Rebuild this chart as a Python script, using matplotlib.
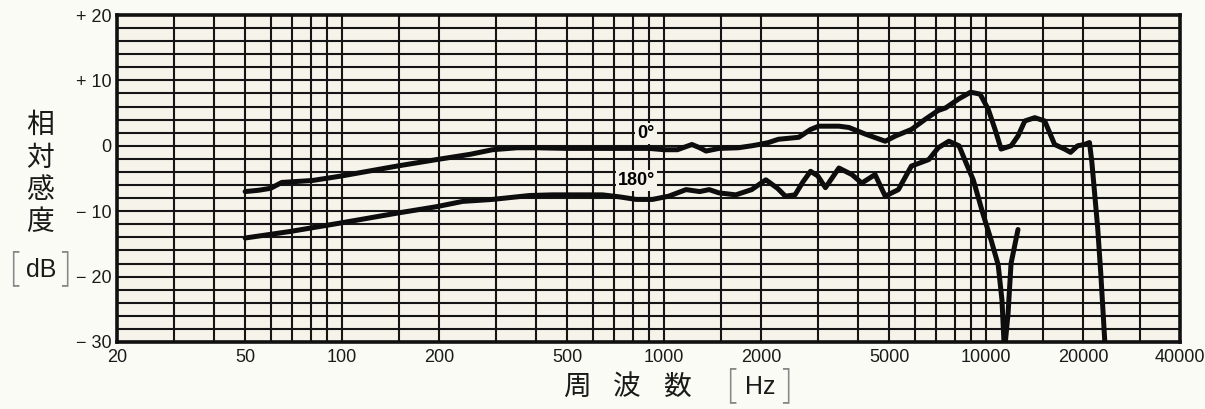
import matplotlib
matplotlib.use("Agg")
import matplotlib.pyplot as plt
from matplotlib.ticker import FixedLocator, NullFormatter

# ---------------- data ----------------
freq_0 = [50, 55, 60, 65, 70, 81, 100, 148, 197, 250, 293, 350, 400, 500, 700, 900,
          1000, 1100, 1220, 1290, 1350, 1480, 1700, 1870, 1970, 2110, 2265, 2620,
          2850, 3020, 3490, 3750, 4210, 4860, 5230, 5860, 6490, 7100, 7490, 8240,
          8950, 9580, 10150, 10660, 11130, 11960, 12560, 13190, 14160, 15200, 16320,
          17520, 18290, 19230, 20200, 20940, 21300, 21700, 22200, 22700, 23400]
db_0 = [-7.0, -6.8, -6.5, -5.6, -5.5, -5.3, -4.6, -3.1, -2.1, -1.3, -0.6, -0.3, -0.3,
        -0.4, -0.4, -0.4, -0.6, -0.6, 0.2, -0.3, -0.8, -0.4, -0.3, 0.0, 0.2, 0.5,
        1.0, 1.3, 2.5, 3.0, 3.0, 2.8, 1.8, 0.7, 1.5, 2.5, 4.1, 5.4, 5.8, 7.2, 8.2,
        7.9, 5.6, 2.5, -0.5, 0.0, 1.5, 3.8, 4.3, 3.8, 0.2, -0.5, -1.0, 0.0, 0.2,
        0.5, -2.5, -7.0, -12.5, -19.5, -30.5]

freq_180 = [50, 69, 99, 148, 197, 237, 293, 382, 450, 643, 725, 819, 920, 1034, 1170,
            1290, 1380, 1480, 1670, 1870, 2070, 2250, 2380, 2550, 2700, 2850, 3000,
            3170, 3490, 3830, 4110, 4520, 4860, 5340, 5860, 6640, 7100, 7660, 8240,
            8660, 9120, 9790, 10360, 10900, 11200, 11400, 11700, 11950, 12560]
db_180 = [-14.1, -13.1, -11.8, -10.3, -9.3, -8.5, -8.2, -7.6, -7.5, -7.5, -7.8, -8.2,
          -8.2, -7.7, -6.7, -7.0, -6.7, -7.2, -7.5, -6.7, -5.2, -6.5, -7.7, -7.5,
          -5.5, -3.9, -4.6, -6.4, -3.4, -4.4, -5.7, -4.4, -7.7, -6.7, -3.1, -2.1,
          -0.3, 0.7, 0.0, -2.6, -5.2, -10.5, -14.4, -18.2, -23.6, -31.5, -25.6,
          -18.0, -12.8]

x_tick_values = [20, 50, 100, 200, 500, 1000, 2000, 5000, 10000, 20000, 40000]
x_tick_labels = ["20", "50", "100", "200", "500", "1000", "2000", "5000", "10000",
                 "20000", "40000"]
x_grid_values = [20, 30, 40, 50, 60, 70, 80, 90, 100, 150, 200, 300, 400, 500, 600,
                 700, 800, 900, 1000, 1500, 2000, 3000, 4000, 5000, 6000, 7000, 8000,
                 9000, 10000, 15000, 20000, 30000, 40000]
y_tick_values = [-30, -20, -10, 0, 10, 20]
y_tick_labels = ["\u2212 30", "\u2212 20", "\u2212 10", "0", "+ 10", "+ 20"]
y_grid_values = list(range(-30, 21, 2))

curve_labels = ["0\u00b0", "180\u00b0"]

# ---------------- figure ----------------
cjk = ["Noto Sans CJK JP", "DejaVu Sans"]
num_font = ["Liberation Sans", "DejaVu Sans"]

fig = plt.figure(figsize=(12.05, 4.09), dpi=100, facecolor="#fbfbf6")
ax = fig.add_axes([117 / 1205, 1 - 342 / 409, (1180 - 117) / 1205, (342 - 15) / 409])
ax.set_facecolor("#f5f3ea")
ax.set_xscale("log")
ax.set_xlim(20, 40000)
ax.set_ylim(-30, 20)

ax.xaxis.set_major_locator(FixedLocator(x_tick_values))
ax.xaxis.set_minor_locator(FixedLocator(x_grid_values))
ax.xaxis.set_minor_formatter(NullFormatter())
ax.set_xticks(x_tick_values)
ax.set_xticklabels(x_tick_labels, fontfamily=num_font, fontsize=13, color="#1a1a1a")
ax.yaxis.set_minor_locator(FixedLocator(y_grid_values))
ax.set_yticks(y_tick_values)
ax.set_yticklabels(y_tick_labels, fontfamily=num_font, fontsize=13, color="#1a1a1a")
ax.tick_params(which="both", length=0)
ax.tick_params(axis="x", pad=5)
ax.tick_params(axis="y", pad=4)

for v in x_grid_values:
    ax.axvline(v, color="#151515", lw=1.5, zorder=1)
for v in y_grid_values:
    ax.axhline(v, color="#151515", lw=1.5, zorder=1)

for s in ax.spines.values():
    s.set_linewidth(2.6)
    s.set_color("#111")

ax.plot(freq_0, db_0, color="#0d0d0d", lw=3.6, solid_joinstyle="round",
        solid_capstyle="round", zorder=3)
ax.plot(freq_180, db_180, color="#0d0d0d", lw=3.6, solid_joinstyle="round",
        solid_capstyle="round", zorder=3)

bbox = dict(boxstyle="square,pad=0.12", facecolor="#f5f3ea", edgecolor="none")
ax.text(880, 1.9, curve_labels[0], fontfamily=num_font, fontsize=13,
        fontweight="bold", ha="center", va="center", bbox=bbox, zorder=4)
ax.text(820, -5.3, curve_labels[1], fontfamily=num_font, fontsize=13,
        fontweight="bold", ha="center", va="center", bbox=bbox, zorder=4)

# y label (vertical stacked characters)
for ch, yp in zip("相対感度", [125, 158, 190, 222]):
    fig.text(40 / 1205, 1 - yp / 409, ch, fontfamily=cjk, fontsize=20,
             ha="center", va="center", color="#1a1a1a")
fig.text(14 / 1205, 1 - 268 / 409, "[", fontfamily=cjk, fontsize=26,
         ha="center", va="center", color="#888", fontweight="light")
fig.text(41 / 1205, 1 - 270 / 409, "dB", fontfamily=num_font, fontsize=18,
         ha="center", va="center", color="#1a1a1a")
fig.text(66 / 1205, 1 - 268 / 409, "]", fontfamily=cjk, fontsize=26,
         ha="center", va="center", color="#888", fontweight="light")

# x label
for ch, xp in zip("周波数", [577, 627, 677]):
    fig.text(xp / 1205, 1 - 387 / 409, ch, fontfamily=cjk, fontsize=20,
             ha="center", va="center", color="#1a1a1a")
fig.text(731 / 1205, 1 - 385 / 409, "[", fontfamily=cjk, fontsize=26,
         ha="center", va="center", color="#888", fontweight="light")
fig.text(760 / 1205, 1 - 387 / 409, "Hz", fontfamily=num_font, fontsize=18,
         ha="center", va="center", color="#1a1a1a")
fig.text(787 / 1205, 1 - 385 / 409, "]", fontfamily=cjk, fontsize=26,
         ha="center", va="center", color="#888", fontweight="light")

fig.savefig("out.png", dpi=100, facecolor=fig.get_facecolor())
